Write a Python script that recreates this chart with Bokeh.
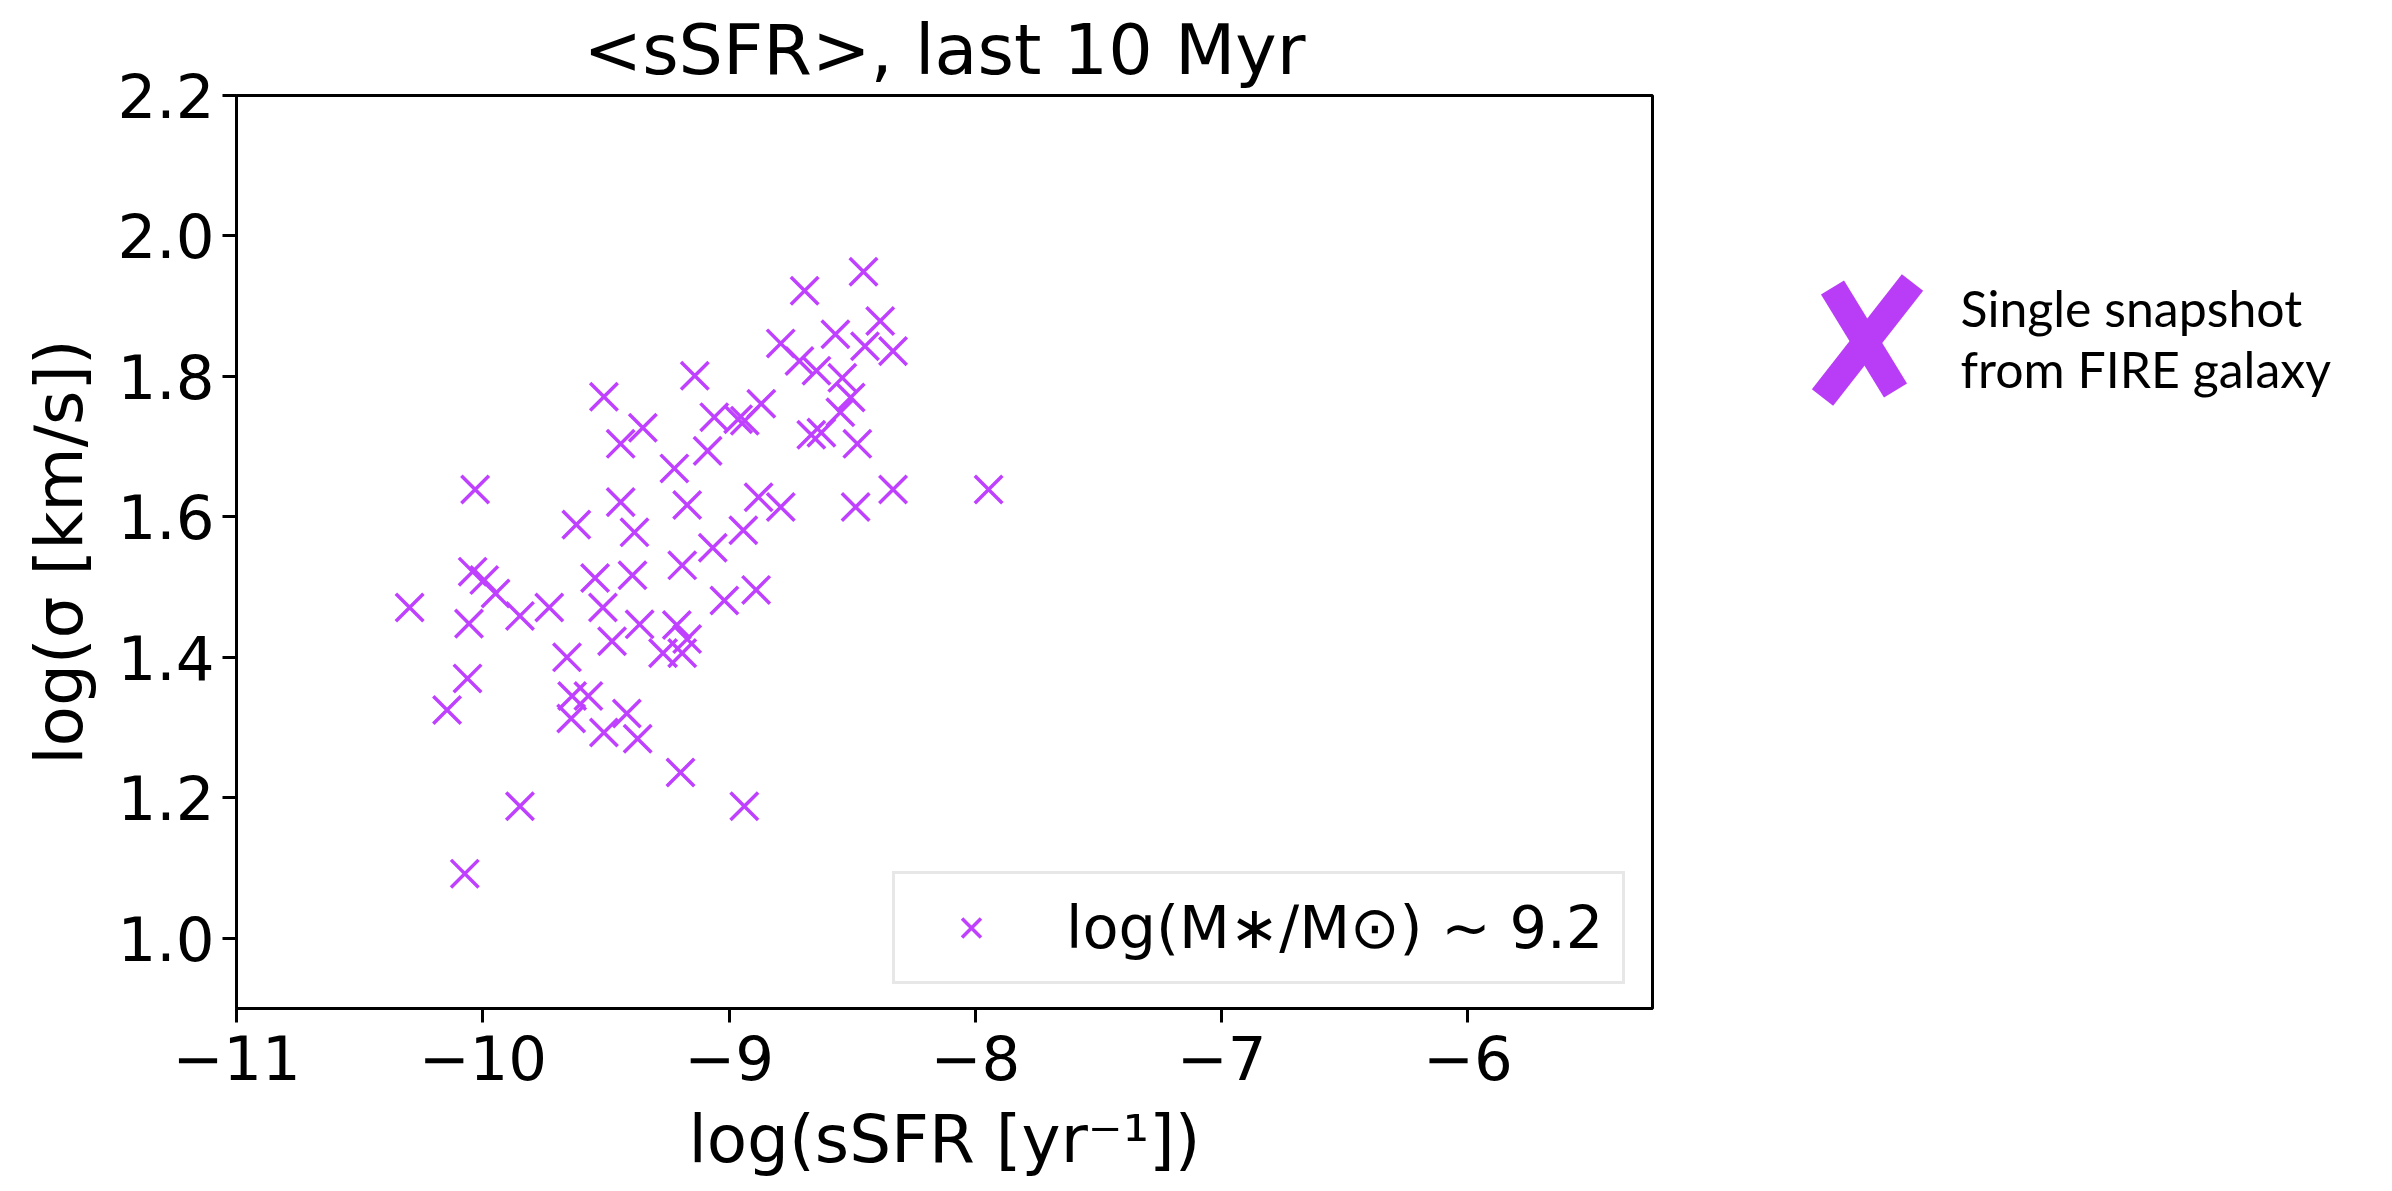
from bokeh.plotting import figure
from bokeh.layouts import row
from bokeh.models import Range1d, FixedTicker, PrintfTickFormatter
from bokeh.core.properties import value
from bokeh.embed import file_html
from bokeh.resources import INLINE

# ---- data ----
ssfr = [-8.454, -8.693, -8.386, -8.790, -8.568, -8.448, -8.334, -8.714, -8.645, -8.540,
        -9.139, -9.508, -8.506, -8.869, -8.548, -9.060, -8.963, -8.936, -9.350, -8.666,
        -8.625, -8.479, -9.440, -9.087, -9.222, -10.031, -8.334, -7.946, -9.440, -9.170,
        -8.880, -8.790, -8.486, -9.620, -9.384, -8.942, -9.066, -9.190,
        -10.041, -9.994, -9.544, -9.392, -8.890, -9.948, -9.019, -10.297, -9.849, -9.730,
        -9.512, -10.056, -9.363, -9.212, -9.170, -9.475, -9.268, -9.190, -9.658, -10.062,
        -9.637, -9.571, -10.145, -9.641, -9.415, -9.508, -9.371, -9.197, -9.849, -8.938,
        -10.073]
logsigma = [1.949, 1.922, 1.879, 1.847, 1.860, 1.843, 1.836, 1.822, 1.808, 1.798,
            1.801, 1.771, 1.770, 1.761, 1.749, 1.742, 1.739, 1.737, 1.727, 1.717,
            1.720, 1.704, 1.704, 1.694, 1.669, 1.639, 1.639, 1.639, 1.621, 1.617,
            1.628, 1.614, 1.614, 1.589, 1.578, 1.581, 1.556, 1.531,
            1.522, 1.510, 1.513, 1.517, 1.496, 1.491, 1.481, 1.471, 1.459, 1.471,
            1.471, 1.448, 1.447, 1.446, 1.426, 1.423, 1.406, 1.406, 1.400, 1.370,
            1.345, 1.345, 1.325, 1.313, 1.320, 1.293, 1.284, 1.236, 1.188, 1.188,
            1.092]
x_ticks = [-11, -10, -9, -8, -7, -6]
x_tick_labels = ["\u221211", "\u221210", "\u22129", "\u22128", "\u22127", "\u22126"]
y_ticks = [1.0, 1.2, 1.4, 1.6, 1.8, 2.0, 2.2]
legend_text = "log(M\u2217/M\u2299) ~ 9.2"
note_lines = ["Single snapshot", "from FIRE galaxy"]

PURPLE = "#bf40ff"
FONT = "DejaVu Sans"

p = figure(width=1700, height=1191, output_backend="svg", toolbar_location=None,
           x_range=Range1d(-11, -5.25), y_range=Range1d(0.9, 2.2),
           min_border_left=236, min_border_right=48, min_border_top=95, min_border_bottom=183,
           title="<sSFR>, last 10 Myr")
p.title.text_font = FONT
p.title.text_font_size = "70px"
p.title.text_font_style = "normal"
p.title.align = "center"
p.title.text_color = "black"

p.xgrid.visible = False
p.ygrid.visible = False
p.outline_line_color = "black"
p.outline_line_width = 3
p.background_fill_color = "white"
p.border_fill_color = "white"

p.xaxis.ticker = FixedTicker(ticks=x_ticks)
p.xaxis.major_label_overrides = dict(zip(x_ticks, x_tick_labels))
p.yaxis.ticker = FixedTicker(ticks=y_ticks)
p.yaxis.formatter = PrintfTickFormatter(format="%.1f")
for ax in (p.xaxis, p.yaxis):
    ax.axis_line_width = 3
    ax.axis_line_color = "black"
    ax.major_tick_line_width = 3
    ax.major_tick_out = 14
    ax.major_tick_in = 0
    ax.minor_tick_line_color = None
    ax.major_label_text_font = FONT
    ax.major_label_text_font_size = "61px"
    ax.major_label_text_color = "black"
    ax.axis_label_text_font = FONT
    ax.axis_label_text_font_size = "66px"
    ax.axis_label_text_font_style = "normal"
    ax.axis_label_text_color = "black"
p.xaxis.axis_label = "log(sSFR [yr\u207b\u00b9])"
p.yaxis.axis_label = "log(\u03c3 [km/s])"
p.xaxis.major_label_standoff = 12
p.yaxis.major_label_standoff = 8
p.xaxis.axis_label_standoff = 18
p.yaxis.axis_label_standoff = 16

p.scatter(ssfr, logsigma, marker="x", size=39, line_color=PURPLE, line_width=3.5,
          legend_label=legend_text)

lg = p.legend[0]
lg.location = (656, 24)
lg.margin = 0
lg.padding = 19
lg.spacing = 0
lg.glyph_width = 114
lg.glyph_height = 67
lg.label_height = 67
lg.label_standoff = 38
lg.label_text_font = FONT
lg.label_text_font_size = "59px"
lg.label_text_color = "black"
lg.border_line_color = "#d0d0d0"
lg.border_line_width = 3
lg.background_fill_color = "white"
lg.background_fill_alpha = 1.0

# ---- right-hand note (frame aligned with the main plot: 95..1008 px) ----
q = figure(width=692, height=1191, output_backend="svg", toolbar_location=None,
           x_range=Range1d(1700, 2392), y_range=Range1d(1008, 95),
           x_axis_location=None, y_axis_location=None,
           min_border_left=0, min_border_right=0, min_border_top=95, min_border_bottom=183)
q.xgrid.visible = False
q.ygrid.visible = False
q.outline_line_color = None
q.background_fill_color = "white"
q.border_fill_color = "white"

q.segment(x0=[1832, 1912], y0=[287, 282], x1=[1895, 1822], y1=[390, 397],
          line_color="#b93cf6", line_width=27, line_cap="butt")
q.text(x=[1960, 1960], y=[307, 368], text=note_lines, text_baseline="alphabetic",
       text_font=value("Lato"), text_font_size="50px", text_color="black")

layout = row(p, q)
open("out.html", "w").write(file_html(layout, INLINE))
